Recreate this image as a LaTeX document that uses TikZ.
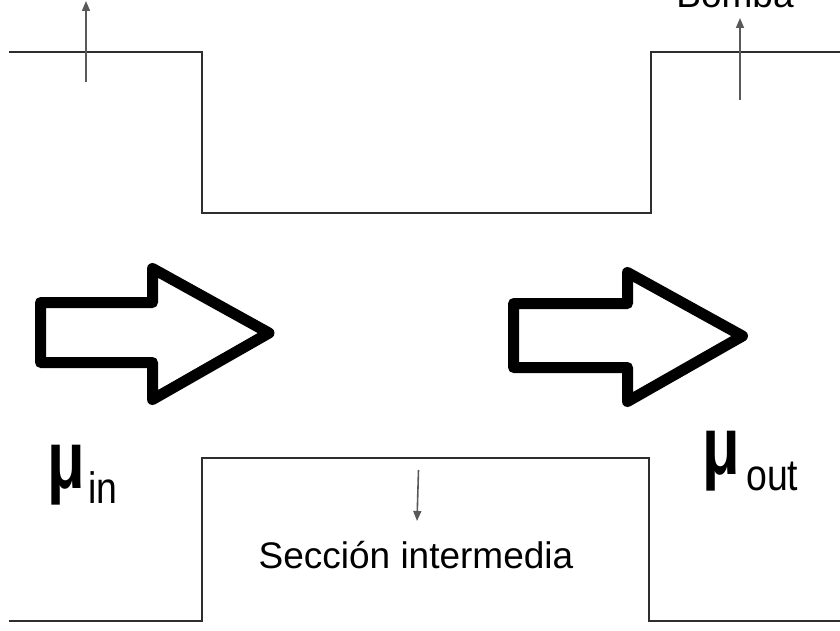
\documentclass[tikz,border=0pt]{standalone}
\usepackage{fontspec}
\setmainfont{Liberation Sans}
\usetikzlibrary{arrows.meta}
\begin{document}
\begin{tikzpicture}[x=1pt,y=-1pt,
  wall/.style={draw=black!82,line width=2.2pt,line join=miter},
  flow/.style={draw=black,line width=11pt,line join=round},
  pointer/.style={draw=black!65,line width=1.6pt,-{Triangle[length=10pt,width=8pt]}},
  label/.style={inner sep=0pt,font=\fontsize{37}{40}\selectfont},
  mu/.style={inner sep=0pt,font=\fontsize{82}{82}\selectfont\bfseries},
  sub/.style={inner sep=0pt,font=\fontsize{44}{46}\selectfont}]
\useasboundingbox (0,0) rectangle (840,631);
% channel walls
\draw[wall] (9,52) -- (202,52) -- (202,213) -- (651,213) -- (651,52) -- (845,52);
\draw[wall] (9,621) -- (202,621) -- (202,458) -- (649,458) -- (649,621) -- (845,621);
% hollow flow arrows
\draw[flow] (40.5,302.5) -- (152.5,302.5) -- (152.5,268.5) -- (269,333) -- (152.5,399.5) -- (152.5,362.5) -- (40.5,362.5) -- cycle;
\draw[flow] (513.5,303.5) -- (627.5,303.5) -- (627.5,272.5) -- (742.5,336) -- (627.5,401.5) -- (627.5,367.5) -- (513.5,367.5) -- cycle;
% pointer arrows
\coordinate (p1a) at (86,82);   \coordinate (p1b) at (86,1);
\coordinate (p2a) at (740,100); \coordinate (p2b) at (740,18);
\coordinate (p3a) at (418.5,470); \coordinate (p3b) at (417,521);
\draw[pointer] (p1a) -- (p1b);
\draw[pointer] (p2a) -- (p2b);
\draw[pointer] (p3a) -- (p3b);
% labels
\node[label,anchor=base] (bomba) at (735,8) {Bomba};
\node[label,anchor=base] (seccion) at (416,568) {Sección intermedia};
\node[mu,anchor=base] (muin) at (66.5,488) {\scalebox{0.75}[1]{μ}};
\node[sub,anchor=base west] (in) at (88,503) {\scalebox{0.85}[1]{in}};
\node[mu,anchor=base] (muout) at (721,474) {\scalebox{0.75}[1]{μ}};
\node[sub,anchor=base west] (out) at (746,490) {\scalebox{0.85}[1]{out}};
\end{tikzpicture}
\end{document}
